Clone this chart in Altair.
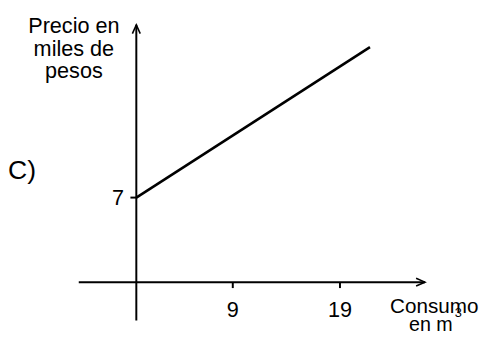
import altair as alt
import pandas as pd

# ---- data ----
line_x = [0, 21.8]
line_y = [7, 19.45]
x_tick_values = [9, 19]
x_tick_labels = ["9", "19"]
y_tick_values = [7]
y_tick_labels = ["7"]
x_axis_span = [-5.37, 26.93]
y_axis_span = [-3.17, 21.30]
y_title = "Precio en\nmiles de\npesos"
x_title_1 = "Consumo"
x_title_2 = "en m"
x_title_sup = "3"
panel_label = "C)"

W, H = 479, 331
FONT = "Liberation Sans"

xs = alt.Scale(domain=[-11.972, 31.972], nice=False, zero=False)
ys = alt.Scale(domain=[-4.4767, 22.465], nice=False, zero=False)

def X(f):
    return alt.X(f, type="quantitative", scale=xs, axis=None)

def Y(f):
    return alt.Y(f, type="quantitative", scale=ys, axis=None)

base = alt.Chart(pd.DataFrame({"d": [0]}))

h_axis = alt.Chart(pd.DataFrame({"x": [x_axis_span[0]], "x2": [x_axis_span[1]], "y": [0]})).mark_rule(
    color="black", strokeWidth=2).encode(x=X("x"), x2="x2", y=Y("y"))
v_axis = alt.Chart(pd.DataFrame({"x": [0], "y": [y_axis_span[0]], "y2": [y_axis_span[1]]})).mark_rule(
    color="black", strokeWidth=2).encode(x=X("x"), y=Y("y"), y2="y2")

arrow_up = alt.Chart(pd.DataFrame({"x": [0], "y": [y_axis_span[1]]})).mark_point(
    shape="M-0.8,1.8 L0,0 L0.8,1.8", size=100, filled=False, color="black",
    strokeWidth=1.6, opacity=1).encode(x=X("x"), y=Y("y"))
arrow_right = alt.Chart(pd.DataFrame({"x": [x_axis_span[1]], "y": [0]})).mark_point(
    shape="M-1.8,-0.8 L0,0 L-1.8,0.8", size=100, filled=False, color="black",
    strokeWidth=1.6, opacity=1).encode(x=X("x"), y=Y("y"))

xt = pd.DataFrame({"x": x_tick_values, "lab": x_tick_labels, "y": [0] * len(x_tick_values),
                   "y2": [-0.49] * len(x_tick_values)})
x_ticks = alt.Chart(xt).mark_rule(color="black", strokeWidth=2).encode(x=X("x"), y=Y("y"), y2="y2")
x_labels = alt.Chart(xt).mark_text(font=FONT, fontSize=22, baseline="alphabetic", align="center",
                                   color="black").encode(x=X("x"), y=alt.value(311), text="lab")

yt = pd.DataFrame({"y": y_tick_values, "lab": y_tick_labels, "x": [0] * len(y_tick_values),
                   "x2": [-0.55] * len(y_tick_values)})
y_ticks = alt.Chart(yt).mark_rule(color="black", strokeWidth=2).encode(y=Y("y"), x=X("x"), x2="x2")
y_labels = alt.Chart(yt).mark_text(font=FONT, fontSize=22, baseline="middle", align="center",
                                   color="black", dy=1).encode(y=Y("y"), x=alt.value(112), text="lab")

line = alt.Chart(pd.DataFrame({"x": line_x, "y": line_y})).mark_line(
    color="black", strokeWidth=2.6).encode(x=X("x"), y=Y("y"))

t_y = base.mark_text(text=y_title, lineBreak="\n", lineHeight=23, font=FONT, fontSize=22,
                     align="center", baseline="alphabetic", color="black").encode(
    x=alt.value(67), y=alt.value(22.7))
t_x1 = base.mark_text(text=x_title_1, font=FONT, fontSize=21, align="center",
                      baseline="alphabetic", color="black").encode(x=alt.value(433.5), y=alt.value(307))
t_x2 = base.mark_text(text=x_title_2, font=FONT, fontSize=20, align="center",
                      baseline="alphabetic", color="black").encode(x=alt.value(430), y=alt.value(326))
t_x3 = base.mark_text(text=x_title_sup, font=FONT, fontSize=13, align="center",
                      baseline="alphabetic", color="black").encode(x=alt.value(458), y=alt.value(311))
t_c = base.mark_text(text=panel_label, font=FONT, fontSize=27, align="left",
                     baseline="alphabetic", color="black").encode(x=alt.value(0), y=alt.value(171))

chart = alt.layer(h_axis, v_axis, arrow_up, arrow_right, x_ticks, x_labels, y_ticks, y_labels,
                  line, t_y, t_x1, t_x2, t_x3, t_c).properties(
    width=W, height=H, padding=0, autosize=alt.AutoSizeParams(type="none")
).configure_view(stroke=None)

chart.save("out.html", embed_options={"renderer": "svg", "actions": False})
